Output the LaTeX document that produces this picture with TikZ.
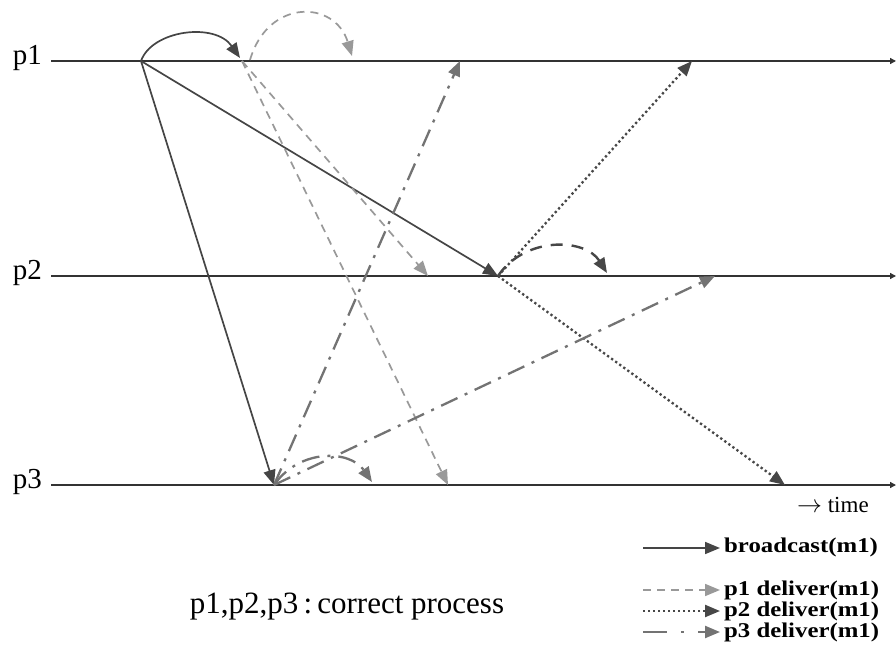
\documentclass[tikz,border=0pt]{standalone}
\usepackage{fontspec}
\setmainfont{Liberation Serif}
\newfontfamily\legfont[FakeStretch=1.18]{Liberation Serif}
\usetikzlibrary{arrows.meta}
\definecolor{cbc}{gray}{0.27}
\definecolor{cp1}{gray}{0.60}
\definecolor{cp2}{gray}{0.28}
\definecolor{cp3}{gray}{0.45}
\definecolor{cline}{gray}{0.2}
\begin{document}
\begin{tikzpicture}[x=1pt,y=-1pt,
  procline/.style={draw=cline,line width=1.3pt,-{Triangle[length=6pt,width=6pt]}},
  tipb/.style={-{Triangle[length=15pt,width=12pt]}},
  bcast/.style={tipb,draw=cbc,line width=1.7pt},
  dlv1/.style={tipb,draw=cp1,line width=1.7pt,dash pattern=on 8pt off 6pt},
  dlv2/.style={tipb,draw=cp2,line width=2.3pt,dash pattern=on 2.3pt off 2.7pt},
  dlv2s/.style={tipb,draw=cp2,line width=2.4pt,dash pattern=on 12pt off 9pt},
  dlv3/.style={tipb,draw=cp3,line width=2.3pt,dash pattern=on 18pt off 8pt on 3pt off 8pt},
  plabel/.style={font=\fontsize{29}{31}\selectfont,inner sep=0pt},
  leg/.style={font=\legfont\bfseries\fontsize{21}{23}\selectfont,inner sep=0pt,anchor=west}
]
\useasboundingbox (0,0) rectangle (896,668);

% process lines
\coordinate (s1) at (51,61);  \coordinate (e1) at (896,61);
\coordinate (s2) at (51,276); \coordinate (e2) at (896,276);
\coordinate (s3) at (51,485); \coordinate (e3) at (896,485);
\draw[procline] (s1) -- (e1);
\draw[procline] (s2) -- (e2);
\draw[procline] (s3) -- (e3);
\node[plabel,anchor=east] (l1) at (42,58) {p1};
\node[plabel,anchor=east] (l2) at (42,273) {p2};
\node[plabel,anchor=east] (l3) at (42,482) {p3};

% events
\coordinate (b) at (141,61);
\coordinate (bself) at (240,58);
\coordinate (d1) at (242,61);
\coordinate (d1self) at (352,56);
\coordinate (d1p2) at (428,276);
\coordinate (d1p3) at (448,485);
\coordinate (d2) at (498,276);
\coordinate (d2self) at (607,273);
\coordinate (d2p1) at (692,61);
\coordinate (d2p3) at (785,485);
\coordinate (d3) at (274,485);
\coordinate (d3self) at (372,482);
\coordinate (d3p1) at (460,61);
\coordinate (d3p2) at (715,276);

% broadcast
\draw[bcast] (b) -- (d2);
\draw[bcast] (b) -- (d3);
\draw[bcast] (b) .. controls (152,30) and (215,22) .. (bself);

% p1 deliver
\draw[dlv1] (d1) -- (d1p2);
\draw[dlv1] (d1) -- (d1p3);
\draw[dlv1] (250,60) .. controls (268,-2) and (335,0) .. (d1self);

% p2 deliver
\draw[dlv2] (d2) -- (d2p1);
\draw[dlv2] (d2) -- (d2p3);
\draw[dlv2s] (d2) .. controls (525,236) and (585,238) .. (d2self);

% p3 deliver
\draw[dlv3] (d3) -- (d3p1);
\draw[dlv3] (d3) -- (d3p2);
\draw[dlv3] (d3) .. controls (300,448) and (350,450) .. (d3self);

% time label
\node[font=\fontsize{23}{25}\selectfont,inner sep=0pt,anchor=west] (time) at (797,505) {$\rightarrow$ time};

% legend
\coordinate (lb0) at (643,548); \coordinate (lb1) at (720,548);
\coordinate (lp10) at (643,590); \coordinate (lp11) at (720,590);
\coordinate (lp20) at (643,611); \coordinate (lp21) at (720,611);
\coordinate (lp30) at (643,632); \coordinate (lp31) at (720,632);
\draw[bcast] (lb0) -- (lb1);
\draw[dlv1] (lp10) -- (lp11);
\draw[dlv2] (lp20) -- (lp21);
\draw[dlv3,dash pattern=on 24pt off 14pt on 3pt off 14pt] (lp30) -- (lp31);
\node[leg] (tb) at (724,547) {broadcast(m1)};
\node[leg] (t1) at (724,590) {p1 deliver(m1)};
\node[leg] (t2) at (724,611) {p2 deliver(m1)};
\node[leg] (t3) at (724,632) {p3 deliver(m1)};

\node[font=\fontsize{31}{33}\selectfont,inner sep=0pt] (cp) at (347,607) {p1,p2,p3\,:\,correct process};
\end{tikzpicture}
\end{document}
